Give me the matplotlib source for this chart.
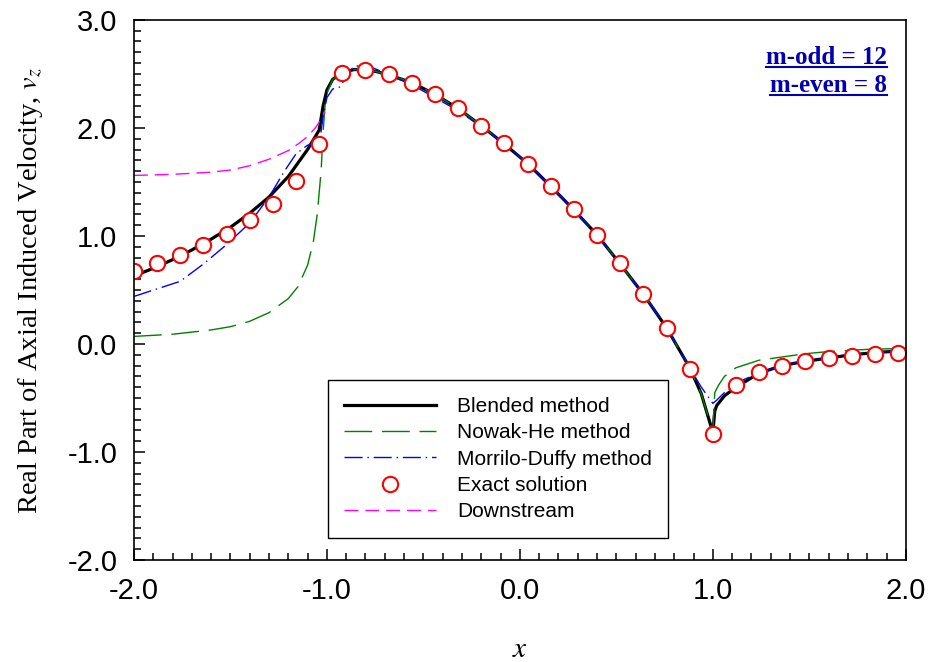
import matplotlib.pyplot as plt
import matplotlib.lines as mlines
from matplotlib.ticker import MultipleLocator, FormatStrFormatter

plt.rcParams['mathtext.fontset'] = 'stix'

# Blended method
x_blend = [-2.00, -1.90, -1.80, -1.70, -1.60, -1.50, -1.40, -1.30, -1.20, -1.10,
           -1.05, -1.04, -1.02, -1.00, -0.97, -0.92, -0.86, -0.80, -0.74, -0.68,
           -0.56, -0.44, -0.32, -0.20, -0.08, 0.04, 0.16, 0.28, 0.40, 0.52,
           0.64, 0.76, 0.88, 0.94, 0.98, 1.00, 1.01, 1.02, 1.06, 1.12,
           1.24, 1.36, 1.48, 1.60, 1.72, 1.84, 2.00]
y_blend = [0.63, 0.70, 0.78, 0.87, 0.97, 1.08, 1.21, 1.36, 1.55, 1.80,
           1.95, 1.98, 2.20, 2.35, 2.45, 2.51, 2.54, 2.54, 2.52, 2.49,
           2.42, 2.31, 2.18, 2.02, 1.85, 1.67, 1.46, 1.24, 1.01, 0.74,
           0.46, 0.15, -0.22, -0.46, -0.70, -0.82, -0.62, -0.57, -0.48, -0.40,
           -0.27, -0.20, -0.16, -0.13, -0.10, -0.08, -0.06]

# Nowak-He method
x_nowak = [-2.00, -1.80, -1.60, -1.50, -1.40, -1.30, -1.20, -1.15, -1.10, -1.07,
           -1.05, -1.03, -1.02, -1.01, -1.00, -0.97, -0.92, -0.86, -0.80, -0.74,
           -0.68, -0.56, -0.44, -0.32, -0.20, -0.08, 0.04, 0.16, 0.28, 0.40,
           0.52, 0.64, 0.76, 0.88, 0.94, 0.98, 1.00, 1.01, 1.03, 1.06,
           1.12, 1.24, 1.36, 1.48, 1.60, 1.80, 2.00]
y_nowak = [0.07, 0.09, 0.13, 0.16, 0.21, 0.29, 0.42, 0.53, 0.73, 0.95,
           1.20, 1.60, 1.95, 2.20, 2.32, 2.45, 2.51, 2.54, 2.54, 2.52,
           2.49, 2.42, 2.31, 2.18, 2.02, 1.85, 1.67, 1.46, 1.24, 1.01,
           0.74, 0.46, 0.15, -0.22, -0.46, -0.70, -0.80, -0.45, -0.38, -0.30,
           -0.22, -0.15, -0.12, -0.09, -0.07, -0.05, -0.04]

# Morrilo-Duffy method
x_morr = [-2.00, -1.88, -1.76, -1.64, -1.52, -1.40, -1.30, -1.22, -1.16, -1.10,
          -1.06, -1.04, -1.02, -1.00, -0.97, -0.93, -0.90, -0.86, -0.80, -0.74,
          -0.68, -0.56, -0.44, -0.32, -0.20, -0.08, 0.04, 0.16, 0.28, 0.40,
          0.52, 0.64, 0.76, 0.88, 0.94, 0.98, 1.00, 1.02, 1.06, 1.10,
          1.16, 1.24, 1.36, 1.48, 1.60, 1.72, 1.84, 2.00]
y_morr = [0.44, 0.51, 0.58, 0.74, 0.92, 1.12, 1.36, 1.60, 1.76, 1.84,
          1.86, 1.84, 2.10, 2.28, 2.36, 2.38, 2.48, 2.57, 2.58, 2.54,
          2.49, 2.40, 2.28, 2.16, 2.01, 1.85, 1.67, 1.46, 1.24, 1.01,
          0.74, 0.46, 0.15, -0.22, -0.40, -0.50, -0.55, -0.52, -0.45, -0.40,
          -0.33, -0.27, -0.20, -0.16, -0.13, -0.10, -0.08, -0.06]

# Exact solution
x_exact = [-2.00, -1.88, -1.76, -1.64, -1.52, -1.40, -1.28, -1.16, -1.04, -0.92,
           -0.80, -0.68, -0.56, -0.44, -0.32, -0.20, -0.08, 0.04, 0.16, 0.28,
           0.40, 0.52, 0.64, 0.76, 0.88, 1.00, 1.12, 1.24, 1.36, 1.48,
           1.60, 1.72, 1.84, 1.96]
y_exact = [0.68, 0.75, 0.82, 0.92, 1.02, 1.15, 1.30, 1.51, 1.85, 2.51,
           2.54, 2.50, 2.42, 2.31, 2.18, 2.02, 1.86, 1.67, 1.46, 1.25,
           1.01, 0.75, 0.46, 0.15, -0.23, -0.83, -0.38, -0.26, -0.20, -0.16,
           -0.13, -0.11, -0.09, -0.08]

# Downstream
x_down = [-2.00, -1.80, -1.60, -1.50, -1.40, -1.30, -1.20, -1.15, -1.10, -1.06,
          -1.03, -1.01]
y_down = [1.56, 1.57, 1.59, 1.61, 1.65, 1.71, 1.79, 1.85, 1.92, 2.00,
          2.08, 2.15]

sans = ['Liberation Sans', 'DejaVu Sans']
serif = ['Liberation Serif', 'DejaVu Serif']

fig = plt.figure(figsize=(9.3, 6.62), dpi=100)
ax = fig.add_axes([0.144, 0.154, 0.830, 0.816])

ax.plot(x_blend, y_blend, color='black', lw=2.3, label='Blended method')
ax.plot(x_nowak, y_nowak, color='#008000', lw=1.0, dashes=(20, 7),
        label='Nowak-He method')
ax.plot(x_morr, y_morr, color='#0000ff', lw=1.0, dashes=(13, 3.5, 1, 3.5),
        label='Morrilo-Duffy method')
ax.plot(x_exact, y_exact, 'o', ms=11, mfc='white', mec='red', mew=1.5,
        label='Exact solution')
ax.plot(x_down, y_down, color='#ff00ff', lw=1.0, dashes=(10, 5),
        label='Downstream')

ax.set_xlim(-2, 2)
ax.set_ylim(-2, 3)
ax.xaxis.set_major_locator(MultipleLocator(1.0))
ax.xaxis.set_minor_locator(MultipleLocator(0.1))
ax.yaxis.set_major_locator(MultipleLocator(1.0))
ax.yaxis.set_minor_locator(MultipleLocator(0.1))
ax.xaxis.set_major_formatter(FormatStrFormatter('%.1f'))
ax.yaxis.set_major_formatter(FormatStrFormatter('%.1f'))
ax.tick_params(which='both', direction='in', top=False, right=False, width=1.1)
ax.tick_params(which='major', length=8, labelsize=21, pad=12)
ax.tick_params(which='minor', length=5)
for lab in ax.get_xticklabels() + ax.get_yticklabels():
    lab.set_family(sans)
for sp in ax.spines.values():
    sp.set_linewidth(1.2)

ax.set_xlabel('$x$', fontsize=21, labelpad=22)
ax.set_ylabel('Real Part of Axial Induced Velocity, $v_z$', fontsize=20.5,
              family=serif, labelpad=16)

leg = ax.legend(loc='lower left', bbox_to_anchor=(0.251, 0.041), borderaxespad=0,
                fancybox=False, edgecolor='black', framealpha=1,
                prop={'family': sans, 'size': 15}, handlelength=4.4,
                labelspacing=0.35, borderpad=0.8, handletextpad=1.0)
leg.get_frame().set_linewidth(1.0)

t1 = ax.text(0.975, 0.918, 'm-odd = 12', transform=ax.transAxes, ha='right',
             va='baseline', fontsize=18, fontweight='bold', family=serif,
             color='#0000b0')
t2 = ax.text(0.975, 0.866, 'm-even = 8', transform=ax.transAxes, ha='right',
             va='baseline', fontsize=18, fontweight='bold', family=serif,
             color='#0000b0')

# underline the annotation text
fig.canvas.draw()
inv = fig.transFigure.inverted()
for t in (t1, t2):
    bb = t.get_window_extent()
    x0, y0 = inv.transform((bb.x0, bb.y0 + 2))
    x1, _ = inv.transform((bb.x1, bb.y0 + 2))
    fig.add_artist(mlines.Line2D([x0, x1], [y0, y0], color='#0000b0', lw=1.5))

fig.savefig('out.png', dpi=100)
